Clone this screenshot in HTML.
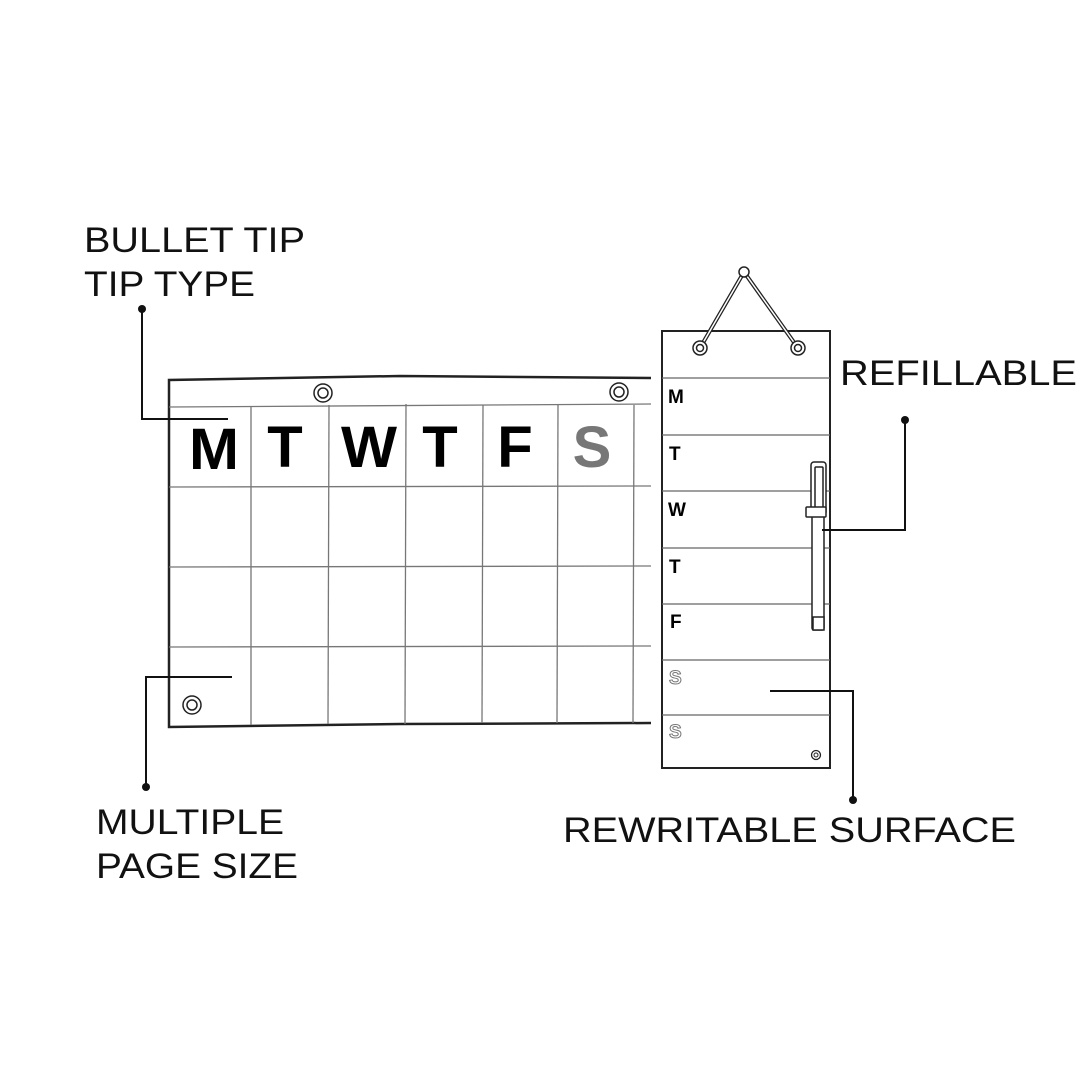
<!DOCTYPE html>
<html><head><style>body{margin:0;background:#fff}svg{display:block}</style></head><body>
<svg width="1080" height="1080" viewBox="0 0 1080 1080" xmlns="http://www.w3.org/2000/svg">
<rect width="1080" height="1080" fill="#fff"/>
<g font-family="Liberation Sans, sans-serif" font-size="35" fill="#111" font-weight="normal">
<text x="84" y="252" textLength="221" lengthAdjust="spacingAndGlyphs">BULLET TIP</text>
<text x="84" y="296" textLength="171" lengthAdjust="spacingAndGlyphs">TIP TYPE</text>
<text x="840" y="385" textLength="237" lengthAdjust="spacingAndGlyphs">REFILLABLE</text>
<text x="96" y="834" textLength="188" lengthAdjust="spacingAndGlyphs">MULTIPLE</text>
<text x="96" y="878" textLength="202" lengthAdjust="spacingAndGlyphs">PAGE SIZE</text>
<text x="563" y="842" textLength="453" lengthAdjust="spacingAndGlyphs">REWRITABLE SURFACE</text>
</g>
<!-- big calendar -->
<g stroke="#222" fill="none">
<path d="M651 378 L400 376 L169 380 L169 727 L400 724 L651 723" stroke-width="2.5"/>
<g stroke="#777" stroke-width="1.3">
<line x1="169" y1="407" x2="651" y2="404"/>
<line x1="169" y1="487" x2="651" y2="486"/>
<line x1="169" y1="567" x2="651" y2="566"/>
<line x1="169" y1="647" x2="651" y2="646"/>
<line x1="251" y1="406" x2="251" y2="725"/>
<line x1="329" y1="405" x2="328" y2="724"/>
<line x1="406" y1="404" x2="405" y2="724"/>
<line x1="483" y1="405" x2="482" y2="723"/>
<line x1="558" y1="405" x2="557" y2="723"/>
<line x1="634" y1="405" x2="633" y2="723"/>
</g>
<g stroke-width="1.5"><circle cx="323" cy="393" r="9"/><circle cx="323" cy="393" r="5"/>
<circle cx="619" cy="392" r="9"/><circle cx="619" cy="392" r="5"/>
<circle cx="192" cy="705" r="9"/><circle cx="192" cy="705" r="5"/></g>
</g>
<g font-family="Liberation Sans, sans-serif" font-weight="bold" font-size="58" text-anchor="middle">
<text x="214" y="469" textLength="50" lengthAdjust="spacingAndGlyphs">M</text>
<text x="285" y="467">T</text>
<text x="369" y="467" textLength="56" lengthAdjust="spacingAndGlyphs">W</text>
<text x="440" y="467">T</text>
<text x="515" y="467">F</text>
<text x="592" y="467" fill="#777">S</text>
</g>
<!-- tall board -->
<g stroke="#222" fill="none">
<rect x="662" y="331" width="168" height="437" stroke-width="2"/>
<g stroke="#666" stroke-width="1.3">
<line x1="662" y1="378" x2="830" y2="378"/><line x1="662" y1="435" x2="830" y2="435"/>
<line x1="662" y1="491" x2="830" y2="491"/><line x1="662" y1="548" x2="830" y2="548"/>
<line x1="662" y1="604" x2="830" y2="604"/><line x1="662" y1="660" x2="830" y2="660"/>
<line x1="662" y1="715" x2="830" y2="715"/></g>
<path d="M700 348 L744 272 L798 348" stroke-width="4"/>
<path d="M700 348 L744 272 L798 348" stroke="#fff" stroke-width="1.5"/>
<circle cx="744" cy="272" r="5" fill="#fff" stroke-width="1.5"/>
<g fill="#fff" stroke-width="1.5"><circle cx="700" cy="348" r="7"/><circle cx="700" cy="348" r="3.5"/>
<circle cx="798" cy="348" r="7"/><circle cx="798" cy="348" r="3.5"/></g>
<circle cx="816" cy="755" r="4.5" stroke-width="1.3"/><circle cx="816" cy="755" r="2" stroke-width="1"/>
<!-- pen -->
<g fill="#fff" stroke-width="1.5">
<rect x="812" y="515" width="12" height="115" rx="2"/>
<rect x="811" y="462" width="15" height="53" rx="3"/>
<rect x="815" y="467" width="8" height="45" rx="1"/>
<rect x="806" y="507" width="20" height="10" rx="1"/>
<rect x="813" y="617" width="11" height="13"/>
</g>
</g>
<g font-family="Liberation Sans, sans-serif" font-weight="bold" font-size="19">
<text x="668" y="403">M</text><text x="669" y="460">T</text><text x="668" y="516">W</text>
<text x="669" y="573">T</text><text x="670" y="628">F</text>
<text x="669" y="684" fill="#fff" stroke="#777" stroke-width="1">S</text>
<text x="669" y="738" fill="#fff" stroke="#777" stroke-width="1">S</text>
</g>
<!-- connectors -->
<g stroke="#111" stroke-width="2" fill="none">
<path d="M142 309 V419 H228"/>
<path d="M146 787 V677 H232"/>
<path d="M905 420 V530 H822"/>
<path d="M853 800 V691 H770"/>
</g>
<g fill="#111"><circle cx="142" cy="309" r="4"/><circle cx="146" cy="787" r="4"/>
<circle cx="905" cy="420" r="4"/><circle cx="853" cy="800" r="4"/></g>
</svg>
</body></html>
